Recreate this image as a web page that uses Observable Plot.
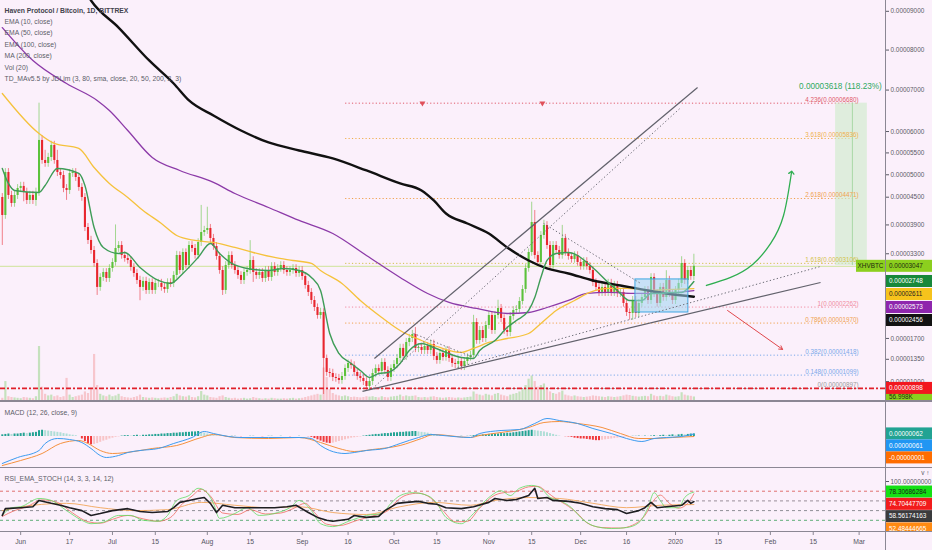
<!DOCTYPE html>
<html><head><meta charset="utf-8">
<script src="https://cdn.jsdelivr.net/npm/d3@7"></script>
<script src="https://cdn.jsdelivr.net/npm/@observablehq/plot@0.6"></script>
<style>
html,body{margin:0;padding:0;background:#fbf0fb;}
#chart{position:relative;width:932px;height:550px;overflow:hidden;background:#fbf0fb;font-family:"Liberation Sans",Arial,sans-serif;}
.pane{position:absolute;left:0;}
.pane svg{display:block;}
.hline{position:absolute;left:0;width:932px;height:1px;background:#8b8794;}
.vline{position:absolute;top:0;left:885px;width:1px;height:550px;background:#8b8794;}
</style></head><body><div id="chart"></div><script>
// ---------------- DATA (prices in satoshi = 1e-8 BTC) ----------------
const startDate = "2019-05-26";
const firstOpen = 4494;
const closes = [
4102,5052,4538,4362,4538,4693,4738,4605,4428,4538,
4428,4605,5790,5326,5257,5395,5673,5326,5052,4984,
4693,4649,5029,5052,4939,4716,4494,3846,3574,3367,
3104,2633,2827,2925,2807,3004,3124,3408,3470,3265,
3204,3164,3024,2905,2768,2633,2749,2575,2729,2575,
2710,2710,2633,2594,2729,2710,2866,3265,2964,3326,
3064,3470,3408,3265,3532,3740,3782,3824,3615,3449,
3245,2964,2575,3064,3265,3064,2964,2866,2768,2925,
2964,3164,2925,2866,2925,2807,2964,2827,3044,2925,
3004,3064,2964,2925,2964,3004,2905,2964,2846,2671,
2537,2385,2254,2107,2162,1364,1140,1124,1063,1047,
1017,1078,1203,1283,1251,1140,1078,1047,1002,927,
1002,1124,1203,1155,1299,1171,1063,1203,1267,1364,
1530,1397,1631,1699,1769,1530,1546,1496,1563,1496,
1597,1397,1331,1446,1380,1496,1364,1283,1267,1315,
1235,1315,1380,1413,1981,1665,1839,1699,1927,2107,
1839,2107,2236,2053,1839,1804,2089,2199,2217,2366,
2594,3004,3326,3952,3265,3124,3677,3888,3470,3064,
3470,3367,3265,3615,3326,3245,3184,3265,3124,3044,
3144,3044,2964,2729,2633,2537,2633,2537,2710,2537,
2671,2518,2537,2329,2162,2144,2385,2144,2329,2441,
2575,2385,2827,2518,2329,2633,2441,2768,2518,2385,
2575,2710,3104,2768,2964,2846,3047];
const highs = [
4580,5140,5140,4630,4630,4780,4830,4830,4700,4630,
4630,4700,6680,5900,5560,5490,5770,5770,5560,5140,
5080,4780,5120,5140,5140,5030,4800,4580,3930,3660,
3450,3180,2900,3000,3000,3080,3200,3900,3550,3550,
3340,3280,3240,3100,2980,2850,2830,2830,2800,2800,
2790,2790,2790,2710,2800,2800,2940,3350,3340,3400,
3400,3550,3550,3490,3610,4320,3870,4280,3910,3700,
3530,3320,3040,3140,3340,3340,3140,3040,2940,3000,
3040,3570,3240,3000,3000,3000,3040,3040,3120,3120,
3080,3140,3140,3040,3040,3080,3080,3040,3040,2920,
2750,2610,2460,2320,2240,2230,1420,1200,1190,1120,
1110,1140,1260,1340,1340,1310,1200,1140,1110,1060,
1060,1190,1260,1260,1360,1360,1230,1260,1330,1430,
1600,1600,1700,1770,1840,1890,1610,1610,1630,1630,
1670,1670,1460,1510,1510,1560,1560,1430,1350,1380,
1380,1380,1440,1480,2110,2050,1910,1910,2000,2180,
2180,2180,2390,2310,2120,1910,2160,2270,2290,2440,
2670,3080,3400,4390,4210,3340,3760,4000,3970,3550,
3550,3550,3450,3890,3700,3400,3320,3340,3340,3200,
3220,3220,3120,3040,2800,2710,2710,2710,2790,2790,
2750,2750,2610,2610,2400,2230,2460,2460,2400,2520,
2650,2650,2900,2900,2590,2710,2710,2960,2850,2590,
2650,2790,3240,3180,3040,3040,3290];
const lows = [
3470,4020,4450,4280,4280,4450,4600,4400,4340,4340,
4340,4300,4520,5240,5170,5170,5300,5240,4960,4900,
4600,4430,4560,4940,4850,4630,4410,3760,3490,3290,
3030,2480,2560,2750,2730,2730,2930,3050,3330,3190,
3130,3090,2950,2830,2690,2380,2560,2500,2500,2500,
2500,2630,2560,2520,2520,2630,2630,2790,2890,2890,
2990,2990,3330,3190,3190,3450,3660,3700,3530,3370,
3170,2890,2480,2500,2990,2990,2890,2790,2690,2690,
2850,2890,2730,2790,2790,2730,2730,2750,2750,2850,
2850,2930,2890,2850,2850,2890,2830,2830,2770,2600,
2460,2310,2180,2040,2040,810,1080,1060,1000,990,
960,960,1020,1140,1190,1080,1020,990,940,870,
870,940,1060,1100,1100,1110,1000,1000,1140,1200,
1300,1330,1330,1560,1630,1460,1460,1430,1430,1430,
1430,1330,1270,1270,1320,1320,1300,1220,1200,1200,
1170,1170,1250,1320,1350,1600,1600,1630,1630,1860,
1770,1770,2040,1980,1770,1730,1730,2020,2130,2150,
2300,2520,2930,3250,3190,3050,3050,3600,3390,2990,
2990,3290,3190,3190,3250,3170,3110,3110,3050,2970,
2970,2970,2890,2650,2560,2460,2460,2460,2460,2460,
2460,2440,2440,2260,2090,2020,2020,2070,2070,2260,
2370,2310,2310,2440,2260,2260,2370,2370,2440,2310,
2310,2500,2630,2690,2690,2770,2770];
const volumesK = [
40,250,60,50,45,40,35,50,45,40,
35,60,690,180,90,70,80,60,70,50,
60,290,80,50,60,70,80,120,100,150,
590,200,90,70,60,80,60,70,90,60,
50,45,40,50,60,80,50,45,40,45,
40,35,40,45,40,50,60,90,70,60,
55,70,50,45,60,125,80,70,50,45,
40,60,70,50,40,35,40,30,35,40,
30,35,50,40,35,30,35,30,40,35,
30,30,35,30,35,40,30,35,40,50,
60,70,80,90,80,420,300,150,100,80,
70,60,70,60,50,55,50,45,50,60,
55,60,50,45,60,50,45,55,60,65,
80,60,70,60,65,70,50,45,50,45,
55,60,50,45,40,45,50,45,40,45,
40,45,50,55,120,90,80,70,90,80,
70,90,100,80,70,60,80,90,100,120,
150,200,280,320,250,180,200,220,160,120,
100,90,110,130,80,70,60,70,60,55,
50,55,60,70,65,60,55,50,60,55,
50,55,60,70,80,75,65,60,55,60,
65,60,90,70,60,65,60,80,70,60,
55,60,110,80,70,65,57];

// moving averages: [day index from startDate, price in sats]
const ema10 = [[0,5143],[2,4805],[4,4649],[12,4605],[14,4760],[18,5143],[25,5029],[27,4760],[30,3846],[33,3429],[38,3306],[40,3326],[45,3024],[51,2768],[55,2710],[59,2905],[64,3225],[68,3512],[71,3306],[75,3104],[80,3004],[87,2964],[92,3004],[97,2964],[101,2827],[104,2575],[107,1786],[110,1446],[114,1283],[117,1171],[120,1063],[123,1124],[126,1140],[130,1283],[133,1496],[137,1614],[141,1546],[145,1463],[150,1380],[154,1364],[156,1496],[161,1665],[165,1892],[168,2017],[172,2199],[174,2441],[176,2827],[178,3164],[181,3306],[185,3326],[188,3265],[191,3124],[194,2964],[198,2729],[201,2575],[205,2385],[209,2385],[212,2518],[215,2518],[218,2537],[222,2537],[224,2613],[226,2748]];
const ema50 = [[0,6917],[12,5954],[17,5720],[25,5603],[30,5165],[35,4805],[41,4494],[46,4210],[52,3931],[57,3677],[63,3574],[69,3532],[76,3429],[82,3326],[89,3225],[95,3164],[101,3104],[104,2964],[111,2710],[117,2385],[124,2071],[130,1839],[137,1665],[143,1546],[150,1463],[154,1530],[159,1631],[165,1699],[172,1786],[176,1963],[181,2199],[187,2385],[192,2537],[198,2613],[204,2613],[211,2575],[217,2590],[226,2611]];
const ema100 = [[0,8577],[10,7737],[21,7162],[31,6746],[35,6503],[41,6025],[49,5395],[58,5097],[69,4827],[76,4582],[87,4275],[97,3995],[108,3719],[119,3265],[130,2827],[139,2517],[146,2348],[155,2236],[165,2144],[172,2162],[178,2254],[185,2385],[191,2518],[198,2537],[206,2518],[213,2518],[219,2530],[226,2573]];
const ma200 = [[26,9684],[29,9284],[38,8577],[48,7737],[56,7162],[61,6746],[69,6383],[78,6025],[87,5743],[97,5556],[108,5372],[119,5097],[130,4805],[137,4649],[141,4428],[145,4145],[152,3931],[159,3719],[165,3429],[172,3164],[178,3004],[185,2905],[193,2768],[202,2671],[211,2575],[217,2518],[226,2456]];

// MACD (sats)
const macdLine = [[0,-648],[5,-504],[12,-336],[14,-168],[18,-48],[22,-72],[26,-144],[29,-288],[32,-456],[34,-504],[38,-456],[41,-384],[45,-336],[51,-288],[56,-168],[62,-24],[66,120],[69,72],[74,0],[78,-24],[87,-24],[97,-24],[101,-48],[104,-216],[107,-336],[112,-408],[115,-384],[119,-336],[125,-288],[130,-168],[136,-24],[140,48],[144,24],[153,-24],[156,72],[163,144],[169,168],[174,312],[178,432],[182,384],[188,312],[193,192],[199,72],[204,-48],[209,-120],[213,-48],[217,-24],[222,0],[226,61]];
const signalLine = [[0,-696],[6,-576],[13,-408],[19,-168],[25,-96],[28,-168],[32,-336],[36,-408],[43,-360],[49,-288],[57,-216],[65,-24],[69,48],[76,-24],[87,-48],[97,-24],[104,-144],[110,-288],[115,-360],[121,-312],[130,-216],[137,-48],[141,48],[153,-24],[156,24],[163,96],[172,216],[177,336],[182,360],[188,312],[196,216],[202,72],[208,-48],[213,-48],[219,-24],[226,-1]];
const macdHist = [
40,50,60,50,60,60,70,80,70,80,
90,100,140,150,140,130,120,110,100,90,
70,60,40,30,20,0,-60,-120,-170,-200,
-190,-170,-140,-110,-90,-60,-40,-20,-10,10,
20,20,10,20,30,20,30,30,40,40,
50,50,60,60,70,70,80,80,90,90,
100,100,110,110,120,100,80,60,40,20,
10,5,0,-5,0,5,5,0,-5,0,
0,5,5,0,0,-5,0,5,5,0,
0,5,0,0,-5,0,0,5,0,0,
-5,-20,-50,-80,-110,-140,-160,-170,-160,-140,
-120,-100,-80,-60,-40,-30,-20,-10,10,20,
30,40,50,50,60,70,70,80,90,90,
100,100,110,110,120,120,110,100,90,80,
60,40,30,20,10,0,5,0,-5,0,
5,0,5,10,20,30,30,40,40,50,
50,60,60,70,70,80,80,90,100,110,
120,130,140,150,140,130,120,110,90,70,
50,30,10,0,-5,-10,-20,-40,-50,-60,
-60,-70,-80,-90,-100,-100,-90,-80,-70,-60,
-50,-40,-30,-20,-10,0,5,5,10,5,
10,5,10,20,10,20,30,20,30,40,
30,40,50,40,50,60,62];

// RSI_EMA_STOCH
const rsiBlack = [[0,30],[1,44],[6,46],[10,48],[12,61],[16,55],[19,51],[22,46],[26,40],[29,30],[32,34],[36,40],[41,44],[45,38],[49,36],[54,38],[56,46],[58,57],[61,61],[64,65],[66,67],[68,55],[70,36],[72,51],[76,46],[80,46],[84,46],[89,46],[93,48],[96,51],[100,36],[103,26],[106,20],[108,18],[113,22],[115,30],[119,26],[123,28],[125,40],[129,55],[132,57],[136,59],[139,55],[142,53],[145,46],[150,44],[154,48],[159,57],[161,65],[165,61],[168,63],[172,71],[174,86],[175,65],[178,67],[180,61],[185,59],[189,55],[193,48],[197,44],[201,42],[204,34],[208,40],[210,46],[212,57],[214,46],[217,48],[222,51],[224,61],[225,55],[226,58.56]];
const rsiGreen = [[0,30],[3,46],[6,48],[12,65],[16,61],[21,40],[26,20],[29,13],[33,16],[38,30],[42,30],[46,20],[51,18],[54,30],[57,61],[61,71],[64,86],[66,82],[69,55],[71,24],[76,34],[80,46],[84,30],[90,36],[94,46],[97,61],[101,40],[104,13],[108,7],[114,20],[119,30],[124,34],[127,55],[130,71],[134,77],[139,71],[142,55],[145,26],[150,13],[154,34],[159,67],[163,81],[166,71],[169,86],[173,92],[176,86],[179,67],[182,61],[186,46],[189,26],[193,9],[199,3],[204,5],[208,15],[211,46],[213,77],[215,61],[217,46],[221,46],[223,67],[226,78.31]];
const rsiRed = [[0,28],[4,40],[8,48],[13,62],[18,57],[23,35],[28,17],[32,14],[36,22],[41,30],[46,23],[51,18],[55,26],[59,55],[62,70],[65,84],[68,70],[72,35],[77,32],[81,42],[86,33],[91,35],[95,44],[99,55],[102,36],[106,12],[110,9],[116,20],[121,29],[126,40],[129,60],[132,72],[136,76],[140,66],[144,40],[148,17],[152,18],[156,45],[161,72],[165,78],[168,80],[172,89],[175,90],[178,78],[181,64],[184,53],[188,34],[191,15],[196,5],[202,4],[206,10],[210,30],[213,62],[215,72],[218,55],[221,45],[224,55],[226,74.7]];
const rsiOrange = [[0,40],[10,51],[21,55],[32,46],[43,40],[54,42],[65,57],[76,51],[87,46],[97,48],[108,36],[119,32],[130,48],[141,57],[153,51],[161,61],[172,67],[182,65],[193,55],[204,46],[215,51],[226,52.48]];

// drawings (day index, price)
const fibLevels = [0, 0.148, 0.382, 0.786, 1, 1.618, 2.618, 3.618, 4.236];
const fibPrices = [897, 1099, 1418, 1970, 2262, 3106, 4471, 5836, 6680];
const fibColors = ["#9a9a9a","#79a8ea","#79a8ea","#f0a24e","#f08ba0","#d2c24a","#f0a24e","#f0b04e","#e05a6a"];
const trendLines = [
  {d1:121.6, p1:1364, d2:227.2, p2:7065, dotted:false},
  {d1:121.0, p1:897,  d2:221.6, p2:6563, dotted:true},
  {d1:117.7, p1:854,  d2:267.4, p2:2729, dotted:false},
  {d1:148.8, p1:1219, d2:267.4, p2:3044, dotted:true},
  {d1:134.4, p1:1786, d2:154.0, p2:1380, dotted:true},
  {d1:176.9, p1:3931, d2:208.6, p2:2710, dotted:true}];
const priceRange = {d1:272.3, d2:282.7, dm:277.8, dl:273.9, from:3062, to:6680, text:"0.00003618 (118.23%)"};
const boxRange = {d1:206.9, d2:224.2, p1:2162, p2:2788};
const greenArrow = [[230.1,2671],[238,2827],[245.2,3084],[251.1,3512],[255.3,4102],[257.9,5052]];
const redArrow = {d1:237, p1:2199, d2:255, p2:1513};
const fibMarks = [[137.3,6680],[176.5,6680]];
const priceTicks = [9000,8000,7000,6000,5500,5000,4500,3900,3300,1700,1350,1000];
const timeTicks = ["2019-06-01","2019-06-17","2019-07-01","2019-07-15","2019-08-01","2019-08-15","2019-09-01","2019-09-16","2019-10-01","2019-10-15","2019-11-01","2019-11-15","2019-12-01","2019-12-16","2020-01-01","2020-01-15","2020-02-01","2020-02-15","2020-03-01"];
const timeLabels = ["Jun","17","Jul","15","Aug","15","Sep","16","Oct","15","Nov","15","Dec","16","2020","15","Feb","15","Mar"];
const legendLines = ["Haven Protocol / Bitcoin, 1D, BITTREX","EMA (10, close)","EMA (50, close)","EMA (100, close)","MA (200, close)","Vol (20)","TD_MAv5.5 by JDLim (3, 80, sma, close, 20, 50, 200, 2, 3)"];
const mainLabels = [
  {value:3047, text:"0.00003047", bg:"#8ccf1e", fg:"#1d2a10", tag:"XHVBTC"},
  {value:2748, text:"0.00002748", bg:"#17883a", fg:"#ffffff"},
  {value:2611, text:"0.00002611", bg:"#f6c31c", fg:"#222222"},
  {value:2573, text:"0.00002573", bg:"#8e26ad", fg:"#ffffff"},
  {value:2456, text:"0.00002456", bg:"#121212", fg:"#ffffff"},
  {value:898,  text:"0.00000898", bg:"#f2171f", fg:"#ffffff"}];
const volLabel = [{value:57, text:"56.998K", bg:"#8ccf1e", fg:"#1d2a10"}];
const macdLabels = [
  {value:62, text:"0.00000062", bg:"#22a393", fg:"#ffffff"},
  {value:61, text:"0.00000061", bg:"#2196f3", fg:"#ffffff"},
  {value:-1, text:"-0.00000001", bg:"#ff6d00", fg:"#ffffff"}];
const rsiLabels = [
  {value:78.30686284, text:"78.30686284", bg:"#14e014", fg:"#1a1a1a"},
  {value:74.70447709, text:"74.70447709", bg:"#f21c1c", fg:"#ffffff"},
  {value:58.56174163, text:"58.56174163", bg:"#3b3b3d", fg:"#ffffff"},
  {value:52.48444665, text:"52.48444665", bg:"#ff8a12", fg:"#ffffff"}];

// ---------------- LAYOUT ----------------
const W = 932, AX = 885, MR = W - AX;
const DAY = 864e5;
const t0 = Date.parse(startDate + "T00:00:00Z");
const day = i => new Date(t0 + i * DAY);
const xOpt = {type: "utc", domain: [day(-0.588), day(288.62)], axis: null};
const sat = v => (v / 1e8).toFixed(8);
const FONT = '"Liberation Sans", Arial, sans-serif';
const GREEN = "#5cc23c", RED = "#e8262e";
const baseStyle = {background: "transparent", fontFamily: FONT, overflow: "hidden"};
const pt = d => ({date: day(d[0]), v: d[1]});

const candles = closes.map((c, i) => ({
  date: day(i), open: i ? closes[i - 1] : firstOpen, close: c,
  high: highs[i], low: lows[i], vol: volumesK[i]
}));
const isUp = d => d.close >= d.open;
const fib = fibLevels.map((l, i) => ({level: l, price: fibPrices[i], color: fibColors[i]}));

function stackedLabels(items, gap, fs = 6.4) {
  return (index, scales, values, dims) => {
    const g = d3.create("svg:g").attr("font-size", fs).attr("font-family", FONT).attr("text-anchor", "start");
    const x0 = dims.width - dims.marginRight + 1;
    const arr = items.map(d => ({...d, y: scales.y(d.value)})).sort((a, b) => a.y - b.y);
    let last = -Infinity;
    for (const d of arr) { if (d.y < last + gap) d.y = last + gap; last = d.y; }
    for (const d of arr) {
      g.append("rect").attr("x", x0).attr("y", d.y - 6).attr("width", W - x0).attr("height", 12).attr("fill", d.bg);
      g.append("text").attr("x", x0 + 3).attr("y", d.y).attr("dy", "0.36em").attr("text-anchor", "start").attr("fill", d.fg).text(d.text);
      if (d.tag) {
        g.append("rect").attr("x", x0 - 30).attr("y", d.y - 6).attr("width", 29).attr("height", 12).attr("fill", d.bg);
        g.append("text").attr("x", x0 - 15.5).attr("y", d.y).attr("dy", "0.36em").attr("text-anchor", "middle").attr("fill", d.fg).text(d.tag);
      }
    }
    return g.node();
  };
}

// volume (underlay)
const volPlot = Plot.plot({
  width: W, height: 401, marginLeft: 0, marginRight: MR, marginTop: 0, marginBottom: 0,
  style: baseStyle, x: xOpt, y: {domain: [0, 5030], axis: null}, color: {type: "identity"},
  marks: [
    Plot.ruleX(candles, {x: "date", y1: 0, y2: "vol", stroke: d => isUp(d) ? "rgba(110,200,90,0.38)" : "rgba(240,110,110,0.32)", strokeWidth: 2.2}),
    stackedLabels(volLabel, 12)
  ]
});

// main price pane
const mainPlot = Plot.plot({
  width: W, height: 401, marginLeft: 0, marginRight: MR, marginTop: 0, marginBottom: 0,
  style: baseStyle, x: xOpt,
  y: {type: "pow", exponent: 0.75, domain: [711, 9284], axis: null},
  color: {type: "identity"},
  marks: [
    Plot.ruleY(fib, {y: "price", x1: () => day(112.2), x2: () => day(279.8), stroke: "color", strokeDasharray: "1.2,2.2", strokeWidth: 1}),
    Plot.ruleY([3047], {stroke: "#cfe39a", strokeWidth: 1}),
    Plot.ruleY([898], {stroke: "#e0202a", strokeWidth: 1.6, strokeDasharray: "5,2,2,2"}),
    Plot.rect([priceRange], {x1: d => day(d.d1), x2: d => day(d.d2), y1: "from", y2: "to", fill: "#cdebc9", fillOpacity: 0.6}),
    Plot.ruleX([priceRange], {x: d => day(d.dm), y1: "from", y2: "to", stroke: "#a9d8a6", strokeWidth: 1}),
    Plot.ruleX(candles, {x: "date", y1: "low", y2: "high", stroke: d => isUp(d) ? GREEN : RED, strokeWidth: 0.8, strokeOpacity: 0.7}),
    Plot.ruleX(candles, {x: "date", y1: "open", y2: "close", stroke: d => isUp(d) ? GREEN : RED, strokeWidth: 2.1}),
    Plot.line(ema100.map(pt), {x: "date", y: "v", stroke: "#8c3aa8", strokeWidth: 1.3, curve: "monotone-x", clip: true}),
    Plot.line(ema50.map(pt), {x: "date", y: "v", stroke: "#f5c23c", strokeWidth: 1.3, curve: "monotone-x", clip: true}),
    Plot.line(ma200.map(pt), {x: "date", y: "v", stroke: "#111111", strokeWidth: 2.4, curve: "monotone-x", clip: true}),
    Plot.line(ema10.map(pt), {x: "date", y: "v", stroke: "#3e9c57", strokeWidth: 1.4, curve: "monotone-x", clip: true}),
    Plot.rect([boxRange], {x1: d => day(d.d1), x2: d => day(d.d2), y1: "p1", y2: "p2", fill: "#9fd6f2", fillOpacity: 0.55, stroke: "#3ea7e2", strokeWidth: 1}),
    Plot.link(trendLines.filter(d => !d.dotted), {x1: d => day(d.d1), y1: "p1", x2: d => day(d.d2), y2: "p2", stroke: "#62626c", strokeWidth: 1.2, clip: true}),
    Plot.link(trendLines.filter(d => d.dotted), {x1: d => day(d.d1), y1: "p1", x2: d => day(d.d2), y2: "p2", stroke: "#6a6a74", strokeWidth: 1, strokeDasharray: "1.3,2.3", clip: true}),
    Plot.line(greenArrow.map(pt), {x: "date", y: "v", stroke: "#2eae50", strokeWidth: 1.3, curve: "natural", markerEnd: "arrow"}),
    Plot.arrow([redArrow], {x1: d => day(d.d1), y1: "p1", x2: d => day(d.d2), y2: "p2", stroke: "#e0474c", strokeWidth: 1, headLength: 6}),
    Plot.dot(fibMarks.map(pt), {x: "date", y: "v", symbol: "triangle", r: 2.2, fill: "#e0505a", rotate: 180}),
    Plot.text(fib, {x: () => day(279.8), y: "price", text: d => `${d.level}(${sat(d.price)})`, textAnchor: "end", dy: -3.5, fill: "color", fontSize: 6.3}),
    Plot.text([priceRange], {x: d => day(d.dl), y: "to", text: "text", dy: -17, fill: "#2eaa5e", fontSize: 8.2}),
    ...legendLines.map((t, i) => Plot.text([t], {frameAnchor: "top-left", dx: 4, dy: i === 0 ? 7.5 : 7.5 + i * 11.5 - 0.5, fill: i === 0 ? "#43434d" : "#5b5d68", fontSize: 6.8, fontWeight: i === 0 ? "bold" : "normal"})),
    Plot.axisY(priceTicks, {anchor: "right", tickSize: 3, tickPadding: 2, tickFormat: sat, fontSize: 6.4, color: "#5a5a66"}),
    stackedLabels(mainLabels, 13)
  ]
});

// MACD pane
const hist = macdHist.map((h, i) => {
  const p = i ? macdHist[i - 1] : h;
  const color = h >= 0 ? (h >= p ? "#22a393" : "#b0ded7") : (h <= p ? "#f0393c" : "#f8c4c7");
  return {date: day(i), h, color};
});
const macdPlot = Plot.plot({
  width: W, height: 66, marginLeft: 0, marginRight: MR, marginTop: 0, marginBottom: 0,
  style: baseStyle, x: xOpt, y: {domain: [-744, 840], axis: null}, color: {type: "identity"},
  marks: [
    Plot.ruleX(hist, {x: "date", y1: 0, y2: "h", stroke: "color", strokeWidth: 2}),
    Plot.line(signalLine.map(pt), {x: "date", y: "v", stroke: "#f5913e", strokeWidth: 1, curve: "monotone-x"}),
    Plot.line(macdLine.map(pt), {x: "date", y: "v", stroke: "#3d9cf0", strokeWidth: 1, curve: "monotone-x"}),
    Plot.text(["MACD (12, 26, close, 9)"], {frameAnchor: "top-left", dx: 4, dy: 8.5, fill: "#5b5d68", fontSize: 6.8}),
    stackedLabels(macdLabels, 12)
  ]
});

// RSI pane
const rsiGuides = [{v: 80, c: "#e07070"}, {v: 60, c: "#9a8e9a"}, {v: 40, c: "#8f8f97"}, {v: 20, c: "#5fae78"}];
const rsiPlot = Plot.plot({
  width: W, height: 64, marginLeft: 0, marginRight: MR, marginTop: 0, marginBottom: 0,
  style: baseStyle, x: xOpt, y: {domain: [-3.1, 128.9], axis: null}, color: {type: "identity"},
  marks: [
    Plot.ruleY(rsiGuides, {y: "v", stroke: "c", strokeDasharray: "3,3", strokeWidth: 1}),
    Plot.line(rsiOrange.map(pt), {x: "date", y: "v", stroke: "#f2a65a", strokeWidth: 0.9, curve: "monotone-x"}),
    Plot.line(rsiRed.map(pt), {x: "date", y: "v", stroke: "#f06a5e", strokeWidth: 0.8, curve: "monotone-x"}),
    Plot.line(rsiGreen.map(pt), {x: "date", y: "v", stroke: "#62dc62", strokeWidth: 0.8, curve: "monotone-x"}),
    Plot.line(rsiBlack.map(pt), {x: "date", y: "v", stroke: "#1e1e22", strokeWidth: 1.6}),
    Plot.text(["RSI_EMA_STOCH (14, 3, 3, 14, 12)"], {frameAnchor: "top-left", dx: 4, dy: 8.5, fill: "#5b5d68", fontSize: 6.8}),
    Plot.axisY([100], {anchor: "right", tickSize: 3, tickPadding: 2, tickFormat: d => d.toFixed(8), fontSize: 6.4, color: "#5a5a66"}),
    stackedLabels(rsiLabels, 12.3)
  ]
});

// time axis
const tickDates = timeTicks.map(s => new Date(s + "T00:00:00Z"));
const axisPlot = Plot.plot({
  width: W, height: 19, marginLeft: 0, marginRight: MR, marginTop: 0, marginBottom: 0,
  style: baseStyle, x: xOpt,
  marks: [
    Plot.tickX(tickDates, {x: d => d, insetBottom: 15, stroke: "#8b8794"}),
    Plot.text(tickDates, {x: d => d, text: (d, i) => timeLabels[i], frameAnchor: "middle", dy: 1, fill: "#55555f", fontSize: 6.8})
  ]
});

const root = document.getElementById("chart");
function place(node, top) {
  const div = document.createElement("div");
  div.className = "pane"; div.style.top = top + "px";
  div.appendChild(node); root.appendChild(div);
}
place(volPlot, 0); place(mainPlot, 0); place(macdPlot, 401); place(rsiPlot, 467); place(axisPlot, 531);
for (const [top, h] of [[400, 1.5], [466.5, 1.2], [530.5, 1]]) {
  const l = document.createElement("div"); l.className = "hline";
  l.style.top = top + "px"; l.style.height = h + "px"; root.appendChild(l);
}
const v = document.createElement("div"); v.className = "vline"; root.appendChild(v);
</script></body></html>
